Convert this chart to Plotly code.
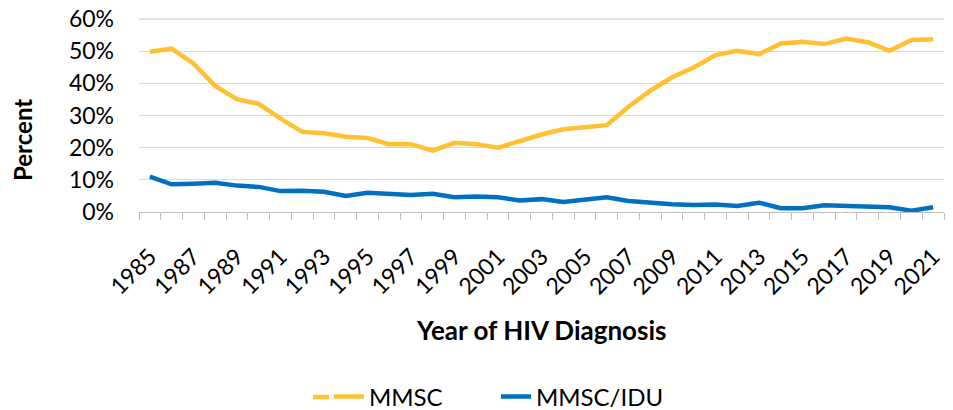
import plotly.graph_objects as go

years = list(range(1985, 2022))
mmsc = [49.8, 50.8, 46.2, 39.2, 35.1, 33.6, 29.1, 24.9, 24.5, 23.4, 23.0, 21.1, 21.1, 19.1,
        21.5, 21.1, 20.0, 22.0, 24.1, 25.7, 26.5, 27.0, 32.7, 37.7, 41.9, 44.9, 48.8, 50.1,
        49.1, 52.4, 52.9, 52.2, 53.9, 52.8, 50.1, 53.5, 53.7]
mmsc_idu = [11.0, 8.6, 8.8, 9.1, 8.2, 7.8, 6.5, 6.6, 6.3, 5.0, 6.0, 5.8, 5.3, 5.7,
            4.6, 4.8, 4.6, 3.6, 4.0, 3.1, 3.8, 4.6, 3.4, 2.8, 2.4, 2.2, 2.3, 1.9,
            2.9, 1.2, 1.2, 2.1, 1.8, 1.5, 1.5, 0.4, 1.5]
tick_years = years[::2]
y_ticks = [0, 10, 20, 30, 40, 50, 60]

FONT = "Lato"
YELLOW = "#FFC132"
BLUE = "#0070C0"
GRID = "#D9D9D9"
fig = go.Figure()
fig.add_trace(go.Scatter(x=years, y=[v / 100 for v in mmsc], name="MMSC", mode="lines",
                         line=dict(color=YELLOW, width=4.5)))
fig.add_trace(go.Scatter(x=years, y=[v / 100 for v in mmsc_idu], name="MMSC/IDU", mode="lines",
                         line=dict(color=BLUE, width=4.5)))

# page body has an 8px default margin: figure is 945x402 placed at (8, 8)
PL, PW, PB, PH = 139, 805, 212, 193  # plot area in page pixels
def px_x(x):
    return (x - PL) / PW
def px_y(y):
    return (PB - y) / PH

fig.update_layout(
    width=945, height=402,
    margin=dict(l=131, r=9, t=11, b=198, autoexpand=False),
    paper_bgcolor="white", plot_bgcolor="white",
    font=dict(family=FONT, size=24, color="#000000"),
    showlegend=True,
    legend=dict(orientation="h", x=px_x(329), xanchor="left",
                y=px_y(397), yanchor="middle", entrywidth=122,
                font=dict(family=FONT, size=24), tracegroupgap=0),
    xaxis=dict(
        range=[1984.5, 2021.5], tickmode="array", tickvals=tick_years,
        ticktext=[str(y) for y in tick_years], tickangle=-45, automargin=False,
        showgrid=False, zeroline=False, showline=True, linecolor="#BFBFBF", linewidth=1.3,
        ticks="", ticklabelstandoff=21, ticklabeloverflow="allow",
        minor=dict(ticks="outside", tick0=1984.5, dtick=1, ticklen=7,
                   tickcolor="#BFBFBF", tickwidth=1.3, showgrid=False),
        tickfont=dict(family=FONT, size=23),
    ),
    yaxis=dict(
        range=[0, 0.6], tickmode="array", tickvals=[v / 100 for v in y_ticks],
        ticktext=[f"{v}%" for v in y_ticks], automargin=False,
        showgrid=True, gridcolor=GRID, gridwidth=1.3, zeroline=False,
        showline=False, ticks="", ticklabelstandoff=24, ticklabeloverflow="allow",
        tickfont=dict(family=FONT, size=23),
    ),
    shapes=[
        # top gridline (60%) on the plot-area edge
        dict(type="line", xref="paper", yref="paper", x0=0, x1=1, y0=1, y1=1,
             layer="below", line=dict(color=GRID, width=1.3)),
        # longer legend keys, as in the original
        dict(type="line", xref="paper", yref="paper", x0=px_x(313), x1=px_x(360),
             y0=px_y(397), y1=px_y(397), line=dict(color=YELLOW, width=4.5)),
        dict(type="line", xref="paper", yref="paper", x0=px_x(475), x1=px_x(522),
             y0=px_y(397), y1=px_y(397), line=dict(color=BLUE, width=4.5)),
    ],
    annotations=[
        dict(text="<b>Percent</b>", xref="paper", yref="paper", x=0, xshift=-117,
             y=px_y(140), textangle=-90, showarrow=False,
             xanchor="center", yanchor="middle", font=dict(family=FONT, size=24)),
        dict(text="<b>Year of HIV Diagnosis</b>", xref="paper", yref="paper", x=0.5,
             y=px_y(330), showarrow=False, xanchor="center", yanchor="middle",
             font=dict(family=FONT, size=26)),
    ],
)

fig.write_html("out.html")
